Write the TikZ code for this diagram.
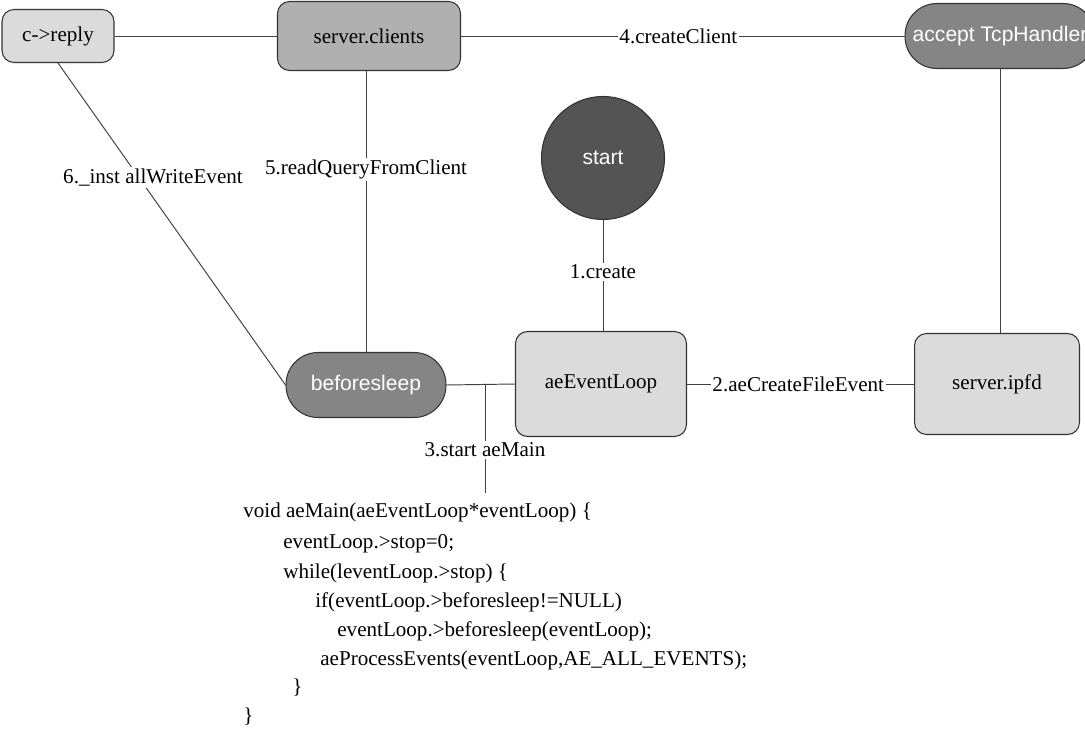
\documentclass[tikz,border=0pt]{standalone}
\usepackage{fontspec}
\setmainfont{Liberation Serif}
\newfontfamily\arialfont{Liberation Sans}
\usetikzlibrary{calc}
\tikzset{
	box/.style={draw=black!80, line width=0.6pt, rounded corners=0.24cm, fill=#1, inner sep=0pt, font=\fontsize{12}{14}\selectfont},
	box/.default={black!14},
	pill/.style={draw=black!80, line width=0.6pt, rounded corners=0.64cm, fill=black!48, text=white, minimum height=1.3cm, inner sep=0pt, font=\arialfont\fontsize{12}{14}\selectfont},
	lbl/.style={fill=white, inner sep=1pt, font=\fontsize{12}{14}\selectfont},
	wire/.style={draw=black!75, line width=0.55pt},
	code/.style={anchor=base west, inner sep=0pt, font=\fontsize{12}{14}\selectfont}
}

\begin{document}
\begin{tikzpicture}[x=0.02cm, y=-0.02cm]
			%%%%% START %%%%%
			\useasboundingbox (0, 0) rectangle (1085, 729);
			
			\node[box, minimum width=2.24cm, minimum height=1.06cm] (reply) at (58, 36) {c->reply};
			\node[box=black!31, minimum width=3.66cm, minimum height=1.38cm] (clients) at (369, 36) {server.clients};
			\node[pill, minimum width=3.8cm] (accept) at (1000, 36) {accept TcpHandler};
			
			\node[circle, draw=black!80, line width=0.6pt, fill=black!67, text=white, minimum size=2.46cm, font=\arialfont\fontsize{12}{14}\selectfont] (start) at (603, 158) {start};
			
			\node[pill, minimum width=3.2cm] (sleep) at (366, 385) {beforesleep};
			\node[box, minimum width=3.42cm, minimum height=2.1cm] (ael) at (601, 384) {aeEventLoop};
			\node[box, minimum width=3.3cm, minimum height=2.02cm] (ipfd) at (997, 384) {server.ipfd};
			
			\draw[wire] (reply.east) -- (clients.west);
			\draw[wire] (clients.east) -- node[lbl, pos=0.49] {4.createClient} (accept.west);
			\draw[wire] (reply.south) -- node[lbl, pos=0.356, xshift=0.28cm] {6.\_inst allWriteEvent} (sleep.west);
			\draw[wire] (sleep.north |- clients.south) -- node[lbl, pos=0.35] {5.readQueryFromClient} (sleep.north);
			\draw[wire] (start.south) -- node[lbl, pos=0.47] {1.create} (start.south |- ael.north);
			\draw[wire] (ael.east) -- node[lbl, pos=0.49] {2.aeCreateFileEvent} (ipfd.west);
			\draw[wire] (accept.south) -- (accept.south |- ipfd.north);
			\draw[wire] (sleep.east) -- (ael.west);
			
			\coordinate (mainend) at (485, 493);
			\draw[wire] (sleep.east -| mainend) -- node[lbl, pos=0.6] {3.start aeMain} (mainend);
			
			\node[code] (code1) at (243, 517) {void aeMain(aeEventLoop*eventLoop) \{};
			\node[code] (code2) at (283, 548) {eventLoop.>stop=0;};
			\node[code] (code3) at (283, 578) {while(leventLoop.>stop) \{};
			\node[code] (code4) at (315, 607) {if(eventLoop.>beforesleep!=NULL)};
			\node[code] (code5) at (337, 636) {eventLoop.>beforesleep(eventLoop);};
			\node[code] (code6) at (320, 665) {aeProcessEvents(eventLoop,AE\_ALL\_EVENTS);};
			\node[code] (code7) at (292, 693) {\}};
			\node[code] (code8) at (243, 722) {\}};
			%%%%% END %%%%%
		\end{tikzpicture}
\end{document}
